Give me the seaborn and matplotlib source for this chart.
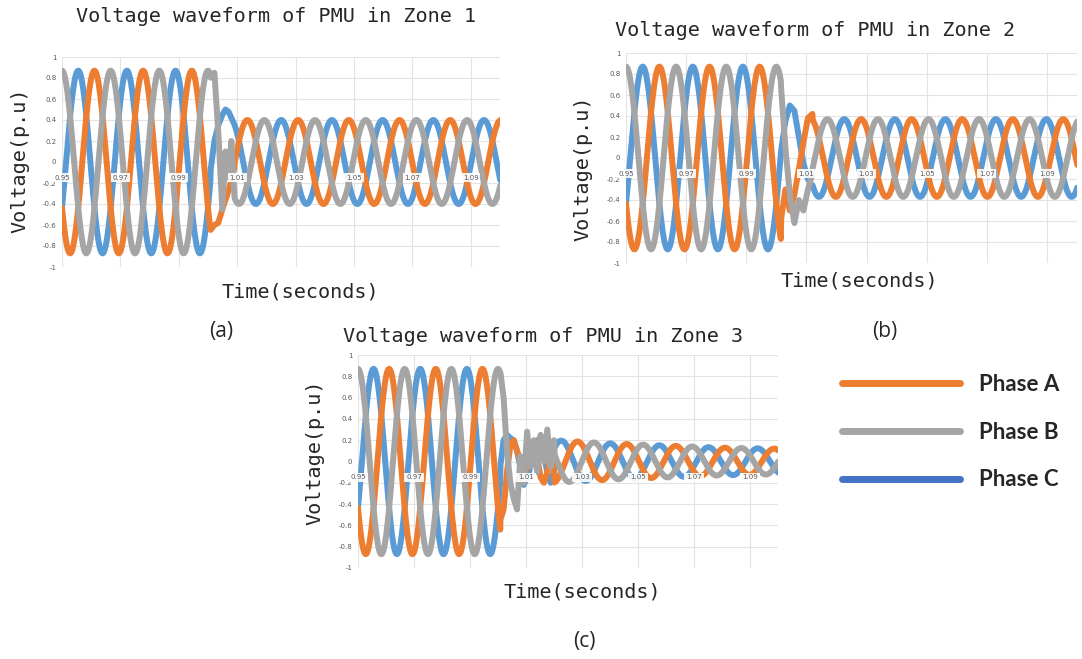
import numpy as np
import pandas as pd
import matplotlib
matplotlib.use("Agg")
import matplotlib.pyplot as plt
from matplotlib.lines import Line2D
import seaborn as sns

sns.set_style("white")

# ---------------------------------------------------------------
# values (per unit voltage, seconds)
# ---------------------------------------------------------------
phases = ["Phase A", "Phase B", "Phase C"]
line_colors = ["#ED7D31", "#A5A5A5", "#5B9BD5"]
legend_colors = ["#ED7D31", "#A5A5A5", "#4472C4"]

x_ticks = [0.95, 0.97, 0.99, 1.01, 1.03, 1.05, 1.07, 1.09]
x_tick_labels = ["0.95", "0.97", "0.99", "1.01", "1.03", "1.05", "1.07", "1.09"]
y_ticks = [1, 0.8, 0.6, 0.4, 0.2, 0, -0.2, -0.4, -0.6, -0.8, -1]
y_tick_labels = ["1", "0.8", "0.6", "0.4", "0.2", "0", "-0.2", "-0.4", "-0.6", "-0.8", "-1"]

# pre-fault: 60 Hz, peak 0.87, phase B peaks at 0.95 s
pre_freq = 60.0
pre_peak = 0.87
pre_peak_b = 0.95

# post-fault steady state: frequency, time of a phase A peak, envelope
zone1_freq, zone1_peak_a = 57.6, 1.0135
zone1_env_t = [1.00, 1.10]
zone1_env_v = [0.40, 0.40]
zone2_freq, zone2_peak_a = 59.5, 1.045
zone2_env_t = [1.00, 1.10]
zone2_env_v = [0.37, 0.37]
zone3_freq, zone3_peak_a = 57.0, 1.046
zone3_env_t = [1.02, 1.04, 1.06, 1.08, 1.10]
zone3_env_v = [0.20, 0.17, 0.15, 0.13, 0.12]

# fault transients (read point by point)
zone1_tr_t = [1.0008, 1.0022, 1.0035, 1.0049, 1.0060, 1.0070, 1.0080, 1.0090]
zone1_tr_a = [-0.65, -0.60, -0.58, -0.45, -0.36, -0.28, -0.17, -0.06]
zone1_tr_b = [0.80, 0.85, 0.30, -0.45, 0.10, -0.15, 0.20, -0.30]
zone1_tr_c = [-0.10, 0.20, 0.35, 0.45, 0.50, 0.48, 0.42, 0.36]

zone2_tr_t = [1.0015, 1.0030, 1.0045, 1.0060, 1.0075, 1.0090, 1.0105, 1.0120]
zone2_tr_a = [-0.60, -0.30, -0.50, -0.35, -0.10, 0.15, 0.38, 0.42]
zone2_tr_b = [0.70, 0.10, -0.35, -0.62, -0.40, -0.50, -0.30, -0.15]
zone2_tr_c = [0.05, 0.35, 0.50, 0.45, 0.20, -0.05, -0.20, -0.27]

zone3_tr_t = [1.0008, 1.0020, 1.0032, 1.0044, 1.0056, 1.0068, 1.0080, 1.0092, 1.0104,
              1.0116, 1.0128, 1.0140, 1.0152, 1.0164, 1.0176, 1.0188, 1.0200]
zone3_tr_a = [-0.55, -0.45, -0.10, 0.15, 0.20, 0.10, 0.00, -0.15, -0.05,
              0.10, 0.18, 0.05, -0.15, -0.20, -0.10, 0.05, 0.15]
zone3_tr_b = [0.85, 0.60, 0.10, -0.20, -0.35, -0.45, 0.05, -0.20, 0.28,
              -0.05, 0.20, -0.10, 0.25, 0.00, 0.30, -0.05, 0.20]
zone3_tr_c = [-0.05, 0.20, 0.25, 0.22, 0.20, 0.10, -0.05, -0.22, -0.15,
              -0.05, 0.10, 0.20, 0.15, 0.05, -0.10, -0.20, -0.15]

zones = [
    ("Voltage waveform of PMU in Zone 1", zone1_freq, zone1_peak_a, zone1_env_t, zone1_env_v,
     zone1_tr_t, [zone1_tr_a, zone1_tr_b, zone1_tr_c]),
    ("Voltage waveform of PMU in Zone 2", zone2_freq, zone2_peak_a, zone2_env_t, zone2_env_v,
     zone2_tr_t, [zone2_tr_a, zone2_tr_b, zone2_tr_c]),
    ("Voltage waveform of PMU in Zone 3", zone3_freq, zone3_peak_a, zone3_env_t, zone3_env_v,
     zone3_tr_t, [zone3_tr_a, zone3_tr_b, zone3_tr_c]),
]

t = np.arange(0.95, 1.1001, 0.0001)


def zone_frame(freq, peak_a, env_t, env_v, tr_t, tr_vals):
    rows = []
    env = np.interp(t, env_t, env_v)
    for k, name in enumerate(phases):
        # phase B leads, then C, then A (1/3 cycle apart)
        shift_pre = [2 / 3, 0, 1 / 3][k]
        pre = pre_peak * np.cos(2 * np.pi * (pre_freq * (t - pre_peak_b) - shift_pre))
        shift_post = [0, 1 / 3, 2 / 3][k]
        post = env * np.cos(2 * np.pi * (freq * (t - peak_a) - shift_post))
        v = np.where(t < tr_t[0], pre, post)
        win = (t >= tr_t[0]) & (t <= tr_t[-1])
        v[win] = np.interp(t[win], tr_t, tr_vals[k])
        rows.append(pd.DataFrame({"time": t, "voltage": v, "phase": name}))
    return pd.concat(rows, ignore_index=True)


W, H = 1082, 659
fig = plt.figure(figsize=(W / 100, H / 100), dpi=100)

# axes boxes in pixels: left, top, right, bottom
boxes = [(62, 57, 500, 267), (626, 53, 1077, 263), (358, 355, 778, 568)]
title_pos = [(276, 17), (815, 31), (543, 337)]
xlabel_pos = [(300, 292), (859, 281), (582, 592)]
ylabel_pos = [(20, 160), (583, 168), (315, 452)]
captions = ["(a)", "(b)", "(c)"]
caption_pos = [(221, 331), (885, 331), (584, 642)]

mono = "DejaVu Sans Mono"
# grey drawn on top, blue underneath
line_z = [2.1, 2.2, 2.0]

for i, (title, freq, peak_a, env_t, env_v, tr_t, tr_vals) in enumerate(zones):
    l, tp, r, b = boxes[i]
    ax = fig.add_axes([l / W, 1 - b / H, (r - l) / W, (b - tp) / H])
    df = zone_frame(freq, peak_a, env_t, env_v, tr_t, tr_vals)
    sns.lineplot(data=df, x="time", y="voltage", hue="phase", palette=line_colors,
                 hue_order=phases, estimator=None, sort=False, linewidth=4.3,
                 legend=False, ax=ax)
    for ln, z in zip(ax.lines, line_z):
        ln.set_solid_capstyle("round")
        ln.set_solid_joinstyle("round")
        ln.set_zorder(z)
    ax.set_xlim(0.95, 1.10)
    ax.set_ylim(-1, 1)
    ax.set_xticks(x_ticks)
    ax.set_yticks(y_ticks)
    ax.set_yticklabels(y_tick_labels)
    ax.tick_params(axis="x", labelbottom=False, length=0)
    ax.tick_params(axis="y", length=0, pad=4, labelsize=5, labelcolor="#595959")
    ax.grid(True, color="#E3E3E3", linewidth=0.8)
    for s in ax.spines.values():
        s.set_visible(False)
    ax.set_xlabel("")
    ax.set_ylabel("")
    for xt, lab in zip(x_ticks, x_tick_labels):
        ax.text(xt, -0.15, lab, ha="center", va="center", fontsize=5, color="#595959",
                zorder=5, bbox=dict(boxstyle="square,pad=0.25", fc="white", ec="none", alpha=0.9))

    fig.text(title_pos[i][0] / W, 1 - title_pos[i][1] / H, title, ha="center", va="center",
             fontsize=14.5, family=mono)
    fig.text(xlabel_pos[i][0] / W, 1 - xlabel_pos[i][1] / H, "Time(seconds)", ha="center",
             va="center", fontsize=14.5, family=mono)
    fig.text(ylabel_pos[i][0] / W, 1 - ylabel_pos[i][1] / H, "Voltage(p.u)", ha="center",
             va="center", fontsize=14.5, family=mono, rotation=90)
    fig.text(caption_pos[i][0] / W, 1 - caption_pos[i][1] / H, captions[i], ha="center",
             va="center", fontsize=15, family="Open Sans")

handles = [Line2D([0], [0], color=c, linewidth=5) for c in legend_colors]
fig.legend(handles, phases, loc="upper left", bbox_to_anchor=(842 / W, 1 - 374 / H),
           frameon=False, borderpad=0, borderaxespad=0, handlelength=5.3,
           handletextpad=0.85, labelspacing=1.2,
           prop={"family": "Lato", "weight": "bold", "size": 16})

fig.savefig("out.png", dpi=100)
